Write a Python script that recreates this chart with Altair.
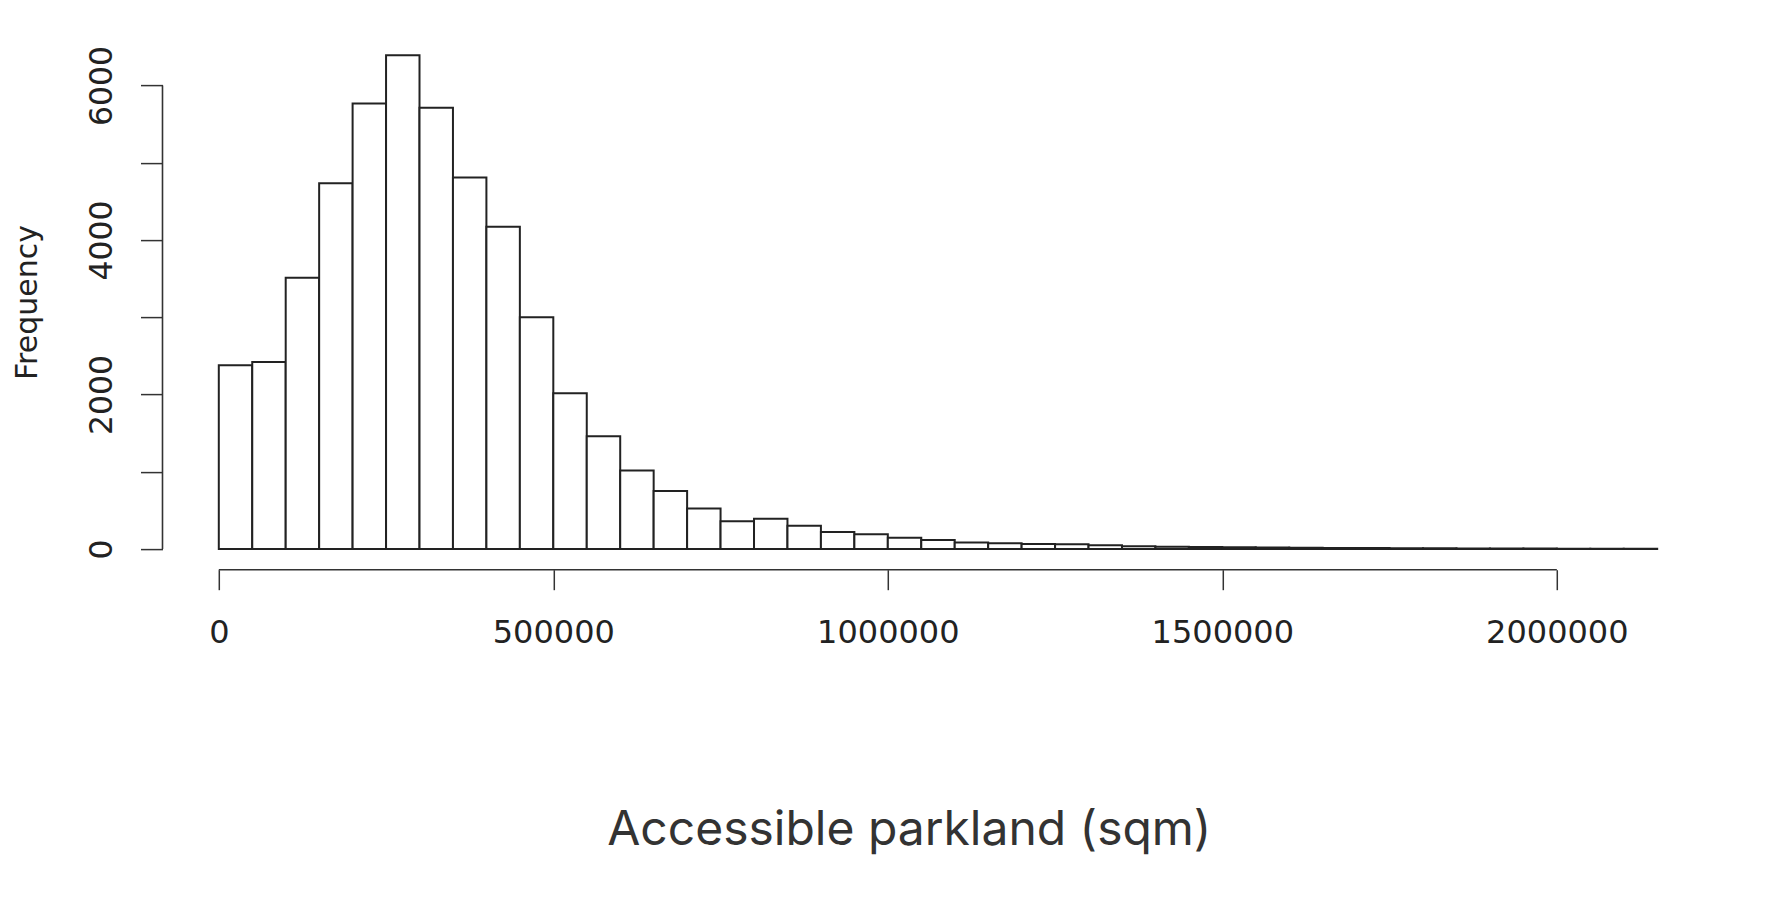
import altair as alt
import pandas as pd

# Histogram bins (sqm), bin width 50000
bin_start = [0, 50000, 100000, 150000, 200000, 250000, 300000, 350000, 400000, 450000,
             500000, 550000, 600000, 650000, 700000, 750000, 800000, 850000, 900000, 950000,
             1000000, 1050000, 1100000, 1150000, 1200000, 1250000, 1300000, 1350000, 1400000, 1450000,
             1500000, 1550000, 1600000, 1650000, 1700000, 1750000, 1800000, 1850000, 1900000, 1950000,
             2000000, 2050000, 2100000]
bin_end = [50000, 100000, 150000, 200000, 250000, 300000, 350000, 400000, 450000, 500000,
           550000, 600000, 650000, 700000, 750000, 800000, 850000, 900000, 950000, 1000000,
           1050000, 1100000, 1150000, 1200000, 1250000, 1300000, 1350000, 1400000, 1450000, 1500000,
           1550000, 1600000, 1650000, 1700000, 1750000, 1800000, 1850000, 1900000, 1950000, 2000000,
           2050000, 2100000, 2150000]
counts = [2380, 2420, 3510, 4735, 5765, 6390, 5710, 4810, 4170, 3000,
          2015, 1460, 1015, 750, 525, 360, 390, 302, 220, 190,
          147, 117, 84, 76, 66, 60, 50, 36, 30, 26,
          22, 20, 17, 14, 12, 10, 9, 8, 6, 5,
          4, 3, 2]

x_ticks = [0, 500000, 1000000, 1500000, 2000000]
y_ticks = [0, 1000, 2000, 3000, 4000, 5000, 6000]

df = pd.DataFrame({"start": bin_start, "end": bin_end, "count": counts})

W = 1438.4
H = 509.9
X_OFF = 20.7
Y_OFF = 56.3

xscale = alt.Scale(domain=[0, 2150000], nice=False, zero=False)
yscale = alt.Scale(domain=[0, 6600], nice=False)

x_axis = alt.Axis(
    values=x_ticks, format="d", title="Accessible parkland (sqm)",
    offset=X_OFF, domain=False, grid=False,
    tickSize=20, tickColor="#333333", tickWidth=1.5,
    labelFont="DejaVu Sans", labelFontSize=32, labelColor="#222222",
    labelPadding=53, labelBaseline="alphabetic", labelFlush=False, labelOverlap=False,
    titleFont="Inter", titleFontSize=48, titleFontWeight="normal", titleColor="#333333",
    titleX=690, titleY=275, titleAlign="center", titleBaseline="alphabetic",
)
y_axis = alt.Axis(
    values=y_ticks, format="d",
    labelExpr="datum.value % 2000 == 0 ? datum.label : ''",
    title="Frequency",
    offset=Y_OFF, domain=False, grid=False,
    tickSize=22, tickColor="#333333", tickWidth=1.5,
    labelFont="DejaVu Sans", labelFontSize=31.5, labelColor="#222222",
    labelAngle=270, labelAlign="center", labelBaseline="alphabetic",
    labelPadding=29, labelOverlap=False, labelFlush=False,
    titleFont="DejaVu Sans", titleFontSize=30, titleFontWeight="normal", titleColor="#222222",
    titleAngle=270, titleX=-125.5, titleY=262.9, titleAlign="center", titleBaseline="alphabetic",
)

bars = alt.Chart(df).mark_rect(fill="white", stroke="#222222", strokeWidth=2).encode(
    x=alt.X("start:Q", scale=xscale, axis=x_axis),
    x2="end:Q",
    y=alt.Y("count:Q", scale=yscale, axis=y_axis),
    y2=alt.datum(0),
)

# R-style axis lines: y from 0 to 6000, x from 0 to 2000000
ydom = alt.Chart(pd.DataFrame({"count": [0], "count2": [6000]})).mark_rule(
    color="#333333", strokeWidth=1.6).encode(
    y=alt.Y("count:Q", scale=yscale, axis=y_axis),
    y2="count2:Q",
    x=alt.value(-Y_OFF),
)

xdom = alt.Chart(pd.DataFrame({"start": [0], "end": [2000000]})).mark_rule(
    color="#333333", strokeWidth=1.6).encode(
    x=alt.X("start:Q", scale=xscale, axis=x_axis),
    x2="end:Q",
    y=alt.value(H + X_OFF),
)

chart = alt.layer(bars, ydom, xdom).properties(
    width=W, height=H,
    padding={"left": 210.8, "top": 31.1, "right": 90, "bottom": 330},
    autosize=alt.AutoSizeParams(type="none"),
    background="white",
).configure_view(stroke=None)

chart.save("out.html", embed_options={"renderer": "svg", "actions": False})
